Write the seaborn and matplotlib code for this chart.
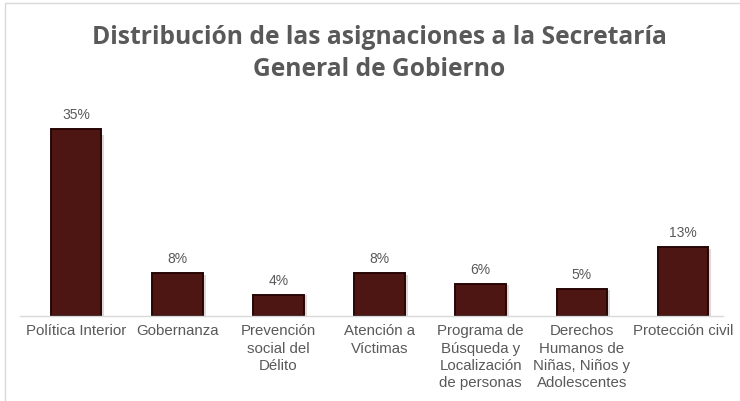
import matplotlib
matplotlib.use("Agg")
import matplotlib.pyplot as plt
import seaborn as sns
import pandas as pd

categories = [
    "Política Interior",
    "Gobernanza",
    "Prevención\nsocial del\nDélito",
    "Atención a\nVíctimas",
    "Programa de\nBúsqueda y\nLocalización\nde personas",
    "Derechos\nHumanos de\nNiñas, Niños y\nAdolescentes",
    "Protección civil",
]
shares = [35, 8, 4, 8, 6, 5, 13]
value_labels = ["35%", "8%", "4%", "8%", "6%", "5%", "13%"]

df = pd.DataFrame({"categoria": categories, "porcentaje": shares})

sns.set_theme(style="white")
plt.rcParams["font.family"] = ["Liberation Sans", "DejaVu Sans"]

fig = plt.figure(figsize=(7.40, 4.01), dpi=100)
ax = fig.add_axes([25.5 / 740, 1 - 316 / 401, 708 / 740, 210 / 401])

sns.barplot(data=df, x="categoria", y="porcentaje", ax=ax, color="#4e1612",
            width=0.5, saturation=1, edgecolor="#260604", linewidth=1.4)

# soft drop shadow on the right of each bar
for p in ax.patches:
    x, w, h = p.get_x(), p.get_width(), p.get_height()
    ax.add_patch(plt.Rectangle((x + w, 0), 0.03, h * 0.97, color="#ddd8d6",
                               zorder=p.get_zorder() - 0.1, linewidth=0))

for p, lab in zip(ax.patches, value_labels):
    ax.annotate(lab, (p.get_x() + p.get_width() / 2, p.get_height()),
                xytext=(0, 5), textcoords="offset points", ha="center",
                va="bottom", fontsize=10, color="#595959")

ax.set_xlim(-0.5, len(categories) - 0.5)
ax.set_ylim(0, 39.3)
ax.set_xlabel("")
ax.set_ylabel("")
ax.set_yticks([])
ax.tick_params(axis="x", length=0, pad=6, labelsize=10.8, labelcolor="#595959")
for lbl in ax.get_xticklabels():
    lbl.set_linespacing(1.3)
    lbl.set_verticalalignment("top")
for s in ["top", "right", "left"]:
    ax.spines[s].set_visible(False)
ax.spines["bottom"].set_color("#d9d9d9")
ax.spines["bottom"].set_linewidth(1)
ax.spines["bottom"].set_bounds(-0.55, len(categories) - 0.6)

title_x = 379 / 740
fig.text(title_x, 1 - 38 / 401, "Distribución de las asignaciones a la Secretaría",
         ha="center", va="center", fontsize=17.7, fontweight="bold",
         family=["Open Sans", "DejaVu Sans"], color="#595959")
fig.text(title_x, 1 - 70 / 401, "General de Gobierno",
         ha="center", va="center", fontsize=17.7, fontweight="bold",
         family=["Open Sans", "DejaVu Sans"], color="#595959")

# thin frame lines along the top and left edges
fig.add_artist(plt.Line2D([5 / 740, 1], [1 - 3 / 401, 1 - 3 / 401],
                          transform=fig.transFigure, color="#d9d9d9", lw=1))
fig.add_artist(plt.Line2D([5 / 740, 5 / 740], [0, 1 - 3 / 401],
                          transform=fig.transFigure, color="#d9d9d9", lw=1))

fig.savefig("out.png", dpi=100)
